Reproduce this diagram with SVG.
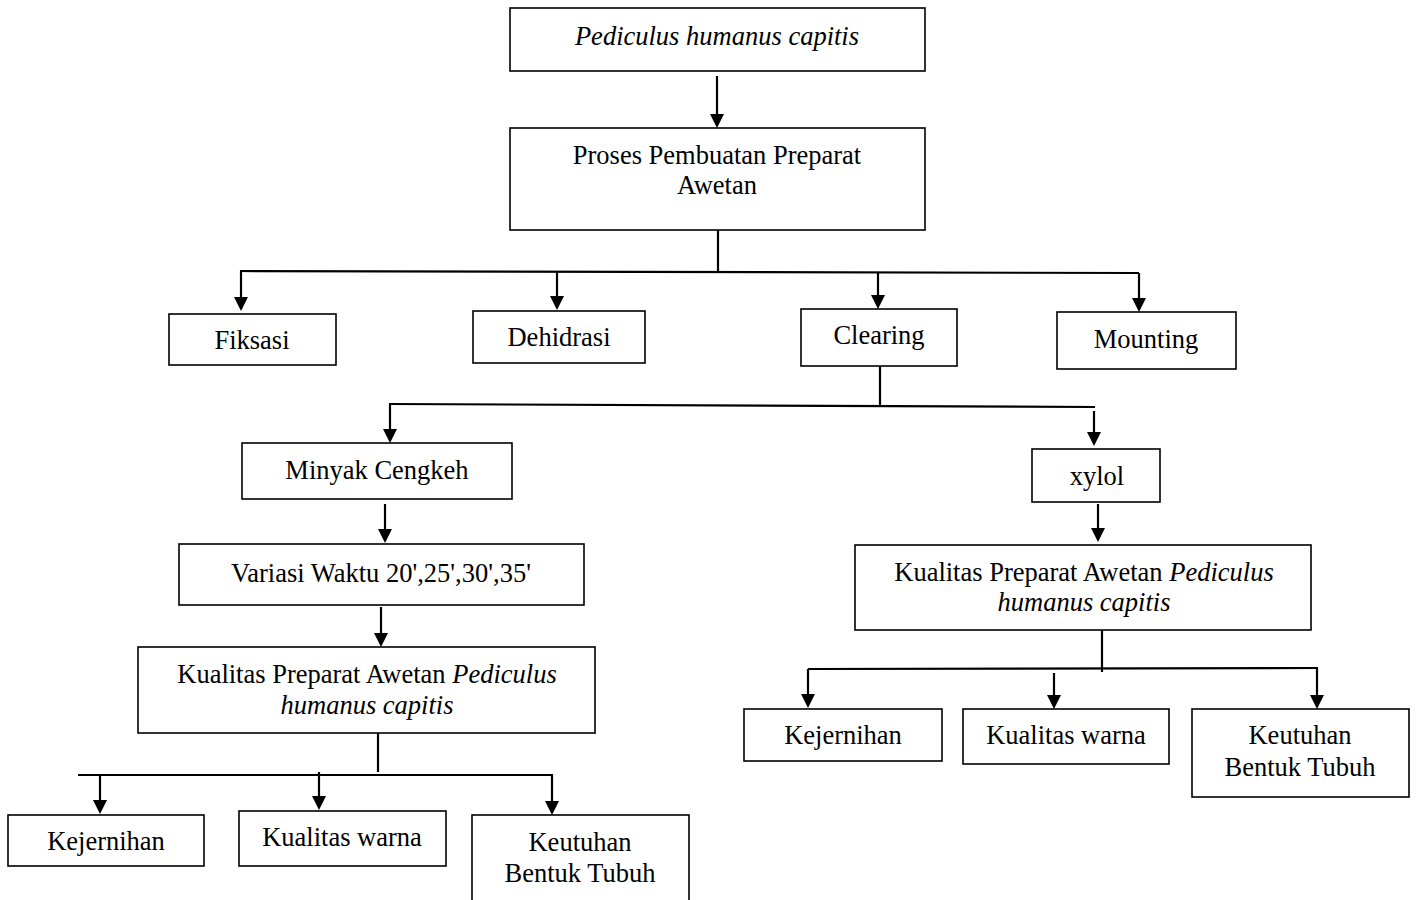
<svg xmlns="http://www.w3.org/2000/svg" width="1416" height="900" viewBox="0 0 1416 900">
<defs>
<style>
.box{fill:#fff;stroke:#000;stroke-width:1.6}
.t{font-family:"Liberation Serif","Times New Roman",serif;font-size:26.5px;fill:#000;text-anchor:middle}
.i{font-style:italic}
.c{fill:none;stroke:#000;stroke-width:2.2}
.h{fill:#000}
</style>
</defs>
<rect width="1416" height="900" fill="#fff"/>

<g id="connectors">
<line class="c" x1="717" y1="76" x2="717" y2="114"/>
<path class="h" d="M710,114 L724,114 L717,128 Z"/>
<line class="c" x1="718" y1="230" x2="718" y2="271"/>
<line class="c" x1="240" y1="271" x2="1139" y2="273"/>
<line class="c" x1="241" y1="271" x2="241" y2="298"/><path class="h" d="M234,297 L248,297 L241,311 Z"/>
<line class="c" x1="557" y1="271" x2="557" y2="297"/><path class="h" d="M550,296 L564,296 L557,310 Z"/>
<line class="c" x1="878" y1="272" x2="878" y2="296"/><path class="h" d="M871,295 L885,295 L878,309 Z"/>
<line class="c" x1="1139" y1="273" x2="1139" y2="299"/><path class="h" d="M1132,298 L1146,298 L1139,312 Z"/>

<line class="c" x1="880" y1="366" x2="880" y2="407"/>
<line class="c" x1="389" y1="404" x2="1095" y2="407"/>
<line class="c" x1="390" y1="404" x2="390" y2="430"/><path class="h" d="M383,429 L397,429 L390,443 Z"/>
<line class="c" x1="1094" y1="411" x2="1094" y2="433"/><path class="h" d="M1087,432 L1101,432 L1094,446 Z"/>

<line class="c" x1="385" y1="504" x2="385" y2="530"/><path class="h" d="M378,529 L392,529 L385,543 Z"/>
<line class="c" x1="381" y1="607" x2="381" y2="634"/><path class="h" d="M374,633 L388,633 L381,647 Z"/>
<line class="c" x1="378" y1="733" x2="378" y2="772"/>
<line class="c" x1="78" y1="775" x2="553" y2="775"/>
<line class="c" x1="100" y1="775" x2="100" y2="801"/><path class="h" d="M93,800 L107,800 L100,814 Z"/>
<line class="c" x1="319" y1="772" x2="319" y2="797"/><path class="h" d="M312,796 L326,796 L319,810 Z"/>
<line class="c" x1="552" y1="775" x2="552" y2="802"/><path class="h" d="M545,801 L559,801 L552,815 Z"/>

<line class="c" x1="1098" y1="504" x2="1098" y2="529"/><path class="h" d="M1091,528 L1105,528 L1098,542 Z"/>
<line class="c" x1="1102" y1="630" x2="1102" y2="672"/>
<line class="c" x1="808" y1="669" x2="1318" y2="668"/>
<line class="c" x1="808" y1="669" x2="808" y2="695"/><path class="h" d="M801,694 L815,694 L808,708 Z"/>
<line class="c" x1="1054" y1="673" x2="1054" y2="696"/><path class="h" d="M1047,695 L1061,695 L1054,709 Z"/>
<line class="c" x1="1317" y1="668" x2="1317" y2="696"/><path class="h" d="M1310,695 L1324,695 L1317,709 Z"/>
</g>

<g id="n-pediculus"><rect class="box" x="510" y="8" width="415" height="63"/><text class="t i" x="717" y="45">Pediculus humanus capitis</text></g>
<g id="n-proses"><rect class="box" x="510" y="128" width="415" height="102"/><text class="t" x="717" y="164">Proses Pembuatan Preparat</text><text class="t" x="717" y="194">Awetan</text></g>

<g id="n-fiksasi"><rect class="box" x="169" y="314" width="167" height="51"/><text class="t" x="252" y="349">Fiksasi</text></g>
<g id="n-dehidrasi"><rect class="box" x="473" y="311" width="172" height="52"/><text class="t" x="559" y="346">Dehidrasi</text></g>
<g id="n-clearing"><rect class="box" x="801" y="309" width="156" height="57"/><text class="t" x="879" y="344">Clearing</text></g>
<g id="n-mounting"><rect class="box" x="1057" y="312" width="179" height="57"/><text class="t" x="1146" y="348">Mounting</text></g>

<g id="n-minyak"><rect class="box" x="242" y="443" width="270" height="56"/><text class="t" x="377" y="479">Minyak Cengkeh</text></g>
<g id="n-variasi"><rect class="box" x="179" y="544" width="405" height="61"/><text class="t" x="381" y="582">Variasi Waktu 20',25',30',35'</text></g>
<g id="n-kualitas-l"><rect class="box" x="138" y="647" width="457" height="86"/><text class="t" x="367" y="683">Kualitas Preparat Awetan <tspan class="i">Pediculus</tspan></text><text class="t i" x="367" y="714">humanus capitis</text></g>
<g id="n-kejernihan-l"><rect class="box" x="8" y="815" width="196" height="51"/><text class="t" x="106" y="850">Kejernihan</text></g>
<g id="n-warna-l"><rect class="box" x="239" y="811" width="207" height="55"/><text class="t" x="342" y="846">Kualitas warna</text></g>
<g id="n-keutuhan-l"><rect class="box" x="472" y="815" width="217" height="90"/><text class="t" x="580" y="851">Keutuhan</text><text class="t" x="580" y="882">Bentuk Tubuh</text></g>

<g id="n-xylol"><rect class="box" x="1032" y="449" width="128" height="53"/><text class="t" x="1097" y="485">xylol</text></g>
<g id="n-kualitas-r"><rect class="box" x="855" y="545" width="456" height="85"/><text class="t" x="1084" y="581">Kualitas Preparat Awetan <tspan class="i">Pediculus</tspan></text><text class="t i" x="1084" y="611">humanus capitis</text></g>
<g id="n-kejernihan-r"><rect class="box" x="744" y="709" width="198" height="52"/><text class="t" x="843" y="744">Kejernihan</text></g>
<g id="n-warna-r"><rect class="box" x="963" y="709" width="206" height="55"/><text class="t" x="1066" y="744">Kualitas warna</text></g>
<g id="n-keutuhan-r"><rect class="box" x="1192" y="709" width="217" height="88"/><text class="t" x="1300" y="744">Keutuhan</text><text class="t" x="1300" y="776">Bentuk Tubuh</text></g>
</svg>
